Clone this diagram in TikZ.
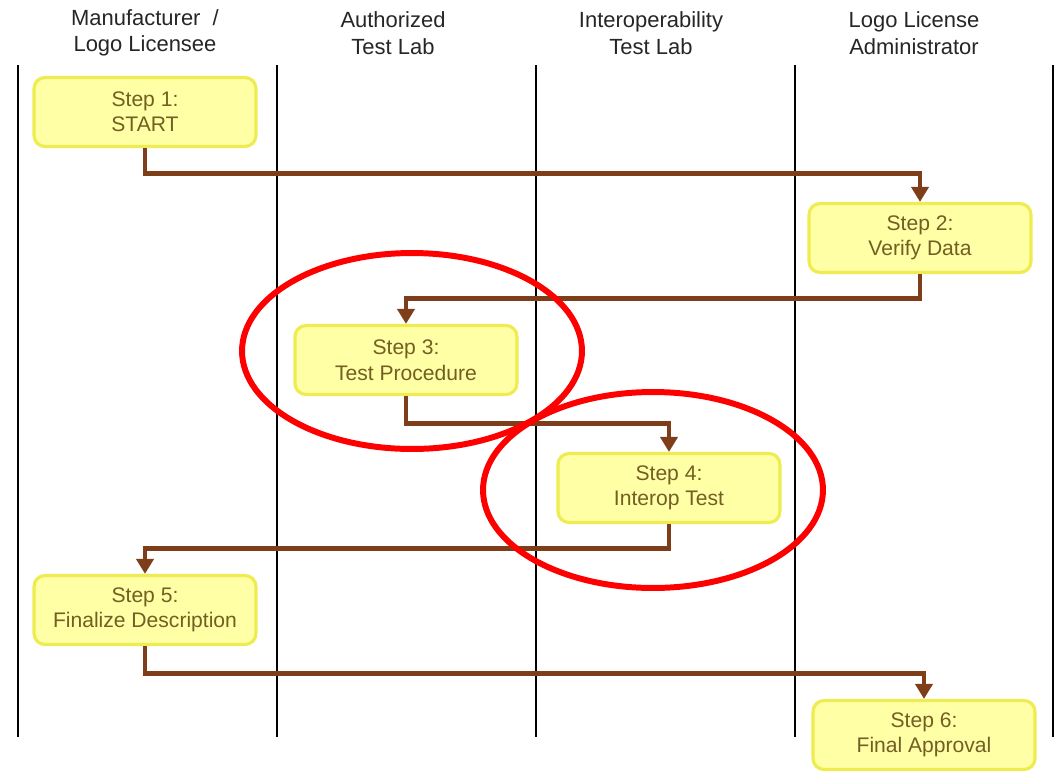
\documentclass[tikz,border=0pt]{standalone}
\usepackage{fontspec}
\setmainfont{Liberation Sans}
\usetikzlibrary{arrows.meta}
\definecolor{flowbrown}{RGB}{125,62,25}
\definecolor{boxfill}{RGB}{255,255,165}
\definecolor{boxline}{RGB}{238,236,80}
\definecolor{boxtext}{RGB}{115,95,35}
\begin{document}
\begin{tikzpicture}[x=0.02cm,y=-0.02cm,
  stepbox/.style={draw=boxline,fill=boxfill,line width=1.8pt,rounded corners=0.22cm,
    minimum width=4.44cm,minimum height=1.38cm,align=center,text=boxtext,
    font=\fontsize{12}{14.5}\selectfont},
  lanehead/.style={align=center,text=black!85,font=\fontsize{12.5}{15}\selectfont},
  flow/.style={draw=flowbrown,line width=2.8pt,-{Triangle[length=0.3cm,width=0.34cm]}},
  lane/.style={line width=1.4pt}]
\useasboundingbox (0,0) rectangle (1058,771);
\draw[lane] (18,65) -- (18,737);
\draw[lane] (277,65) -- (277,737);
\draw[lane] (536,65) -- (536,737);
\draw[lane] (795,65) -- (795,737);
\draw[lane] (1053,65) -- (1053,737);
\node[lanehead] (h1) at (145,33) {Manufacturer \ /\\Logo Licensee};
\node[lanehead] (h2) at (393,33) {Authorized\\Test Lab};
\node[lanehead] (h3) at (651,33) {Interoperability\\Test Lab};
\node[lanehead] (h4) at (914,33) {Logo License\\Administrator};
\node[stepbox] (s1) at (145,112) {Step 1:\\START};
\node[stepbox] (s2) at (920,238) {Step 2:\\Verify Data};
\node[stepbox] (s3) at (406,360) {Step 3:\\Test Procedure};
\node[stepbox] (s4) at (669,488) {Step 4:\\Interop Test};
\node[stepbox] (s5) at (145,610) {Step 5:\\Finalize Description};
\node[stepbox] (s6) at (924,735) {Step 6:\\Final Approval};
\draw[flow] (s1.south) -- ++(0,25) -| (s2.north);
\draw[flow] (s2.south) -- ++(0,24) -| (s3.north);
\draw[flow] (s3.south) -- ++(0,27) -| (s4.north);
\draw[flow] (s4.south) -- ++(0,24) -| (s5.north);
\draw[flow] (s5.south) -- ++(0,27) -| (s6.north);
\draw[red,line width=3.4pt] (412,351) ellipse [x radius=3.4cm,y radius=1.96cm];
\draw[red,line width=3.4pt] (653,490) ellipse [x radius=3.4cm,y radius=1.96cm];
\end{tikzpicture}
\end{document}
